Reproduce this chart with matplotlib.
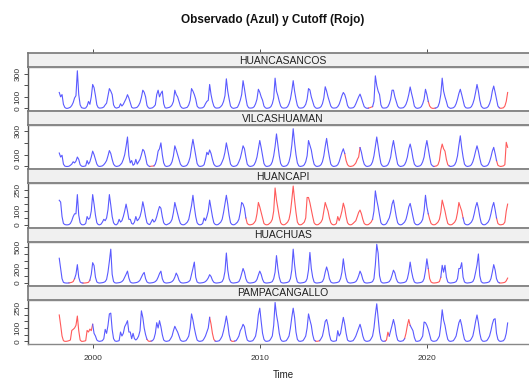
import numpy as np
import matplotlib.pyplot as plt

# --- Datos (precipitacion mensual, ene-1998 a nov-2024) ---

estaciones = ['HUANCASANCOS', 'VILCASHUAMAN', 'HUANCAPI', 'HUACHUAS', 'PAMPACANGALLO']
anio_inicio = 1998

huancasancos = [
    138, 100, 120, 35, 8, 0, 0, 4, 10, 25, 50, 90,
    110, 327, 120, 30, 6, 2, 0, 3, 20, 60, 35, 100,
    208, 180, 110, 30, 6, 2, 3, 5, 12, 30, 45, 110,
    172, 150, 120, 30, 8, 2, 5, 10, 40, 20, 35, 60,
    85, 119, 90, 50, 10, 2, 3, 5, 10, 25, 50, 95,
    158, 140, 100, 25, 5, 0, 2, 5, 15, 30, 120, 158,
    100, 130, 150, 40, 5, 2, 5, 8, 15, 30, 60, 158,
    120, 100, 60, 20, 5, 0, 2, 5, 10, 30, 70, 172,
    150, 120, 80, 20, 5, 2, 3, 5, 15, 40, 60, 70,
    208, 120, 60, 20, 5, 2, 3, 5, 15, 30, 60, 110,
    257, 150, 80, 20, 5, 0, 2, 5, 10, 35, 70, 120,
    241, 170, 90, 25, 5, 2, 3, 5, 15, 40, 80, 166,
    140, 100, 70, 20, 5, 0, 2, 5, 15, 40, 90, 263,
    150, 110, 60, 20, 5, 2, 3, 5, 15, 40, 80, 150,
    241, 150, 80, 25, 5, 2, 3, 5, 15, 35, 80, 172,
    160, 100, 60, 20, 5, 0, 2, 5, 15, 40, 90, 188,
    150, 100, 60, 20, 5, 2, 3, 5, 15, 35, 70, 110,
    138, 120, 80, 25, 5, 2, 3, 5, 15, 40, 70, 100,
    124, 90, 50, 15, 5, 0, 2, 5, 10, 15, 60, 283,
    200, 150, 120, 30, 5, 2, 3, 5, 15, 40, 80, 158,
    158, 100, 60, 20, 5, 2, 3, 5, 15, 35, 70, 120,
    186, 130, 80, 20, 5, 0, 2, 5, 15, 40, 80, 166,
    120, 60, 20, 5, 0, 0, 2, 5, 15, 50, 120, 263,
    150, 100, 60, 15, 5, 0, 2, 5, 15, 40, 80, 130,
    166, 120, 70, 20, 5, 2, 3, 5, 15, 40, 80, 140,
    208, 150, 70, 20, 5, 0, 2, 5, 15, 40, 80, 150,
    194, 140, 80, 20, 5, 0, 2, 5, 20, 60, 138,
]

vilcashuaman = [
    114, 80, 95, 20, 3, 0, 0, 2, 10, 20, 40, 30,
    45, 80, 60, 15, 3, 0, 2, 5, 50, 20, 40, 80,
    130, 100, 60, 20, 3, 0, 2, 5, 15, 30, 50, 90,
    135, 110, 60, 20, 5, 0, 2, 5, 15, 30, 60, 100,
    170, 250, 90, 30, 50, 10, 20, 60, 20, 40, 60, 100,
    145, 130, 80, 20, 5, 0, 2, 3, 5, 20, 60, 130,
    150, 200, 100, 30, 5, 0, 2, 5, 15, 40, 90, 175,
    140, 100, 60, 20, 5, 0, 2, 5, 15, 40, 80, 160,
    230, 160, 90, 25, 5, 0, 2, 5, 15, 60, 120, 100,
    140, 110, 60, 20, 5, 0, 2, 5, 15, 40, 70, 120,
    200, 140, 80, 20, 5, 0, 2, 5, 15, 40, 70, 120,
    175, 150, 80, 20, 5, 0, 2, 5, 15, 40, 80, 150,
    220, 160, 90, 25, 5, 0, 2, 5, 15, 40, 90, 170,
    276, 180, 90, 25, 5, 0, 2, 5, 15, 40, 90, 180,
    320, 200, 100, 30, 5, 0, 2, 5, 15, 40, 90, 220,
    180, 140, 70, 20, 5, 0, 2, 5, 15, 40, 90, 170,
    238, 150, 80, 20, 5, 0, 2, 5, 15, 40, 80, 120,
    150, 110, 50, 15, 3, 0, 2, 5, 15, 30, 60, 80,
    160, 120, 60, 20, 5, 0, 2, 5, 15, 40, 90, 170,
    250, 170, 90, 25, 5, 0, 2, 5, 15, 40, 80, 160,
    220, 150, 80, 20, 5, 0, 2, 5, 15, 40, 80, 150,
    190, 140, 70, 20, 5, 0, 2, 5, 15, 40, 80, 160,
    220, 150, 80, 20, 5, 0, 2, 5, 15, 50, 140, 190,
    150, 130, 60, 15, 5, 0, 2, 5, 15, 40, 90, 180,
    260, 160, 80, 20, 5, 0, 2, 5, 15, 40, 80, 130,
    175, 130, 70, 20, 5, 0, 2, 5, 15, 40, 80, 130,
    162, 110, 50, 10, 3, 0, 2, 5, 15, 205, 162,
]

huancapi = [
    178, 165, 60, 10, 2, 0, 0, 2, 10, 30, 60, 80,
    80, 219, 70, 15, 2, 0, 2, 10, 60, 40, 50, 100,
    219, 150, 70, 15, 2, 0, 5, 20, 40, 30, 50, 110,
    219, 143, 60, 15, 2, 0, 10, 40, 20, 30, 60, 100,
    150, 100, 40, 40, 10, 5, 20, 60, 30, 40, 60, 100,
    167, 120, 60, 15, 5, 2, 20, 40, 20, 30, 60, 100,
    133, 120, 60, 15, 3, 0, 5, 10, 20, 40, 90, 162,
    120, 80, 40, 10, 2, 0, 2, 10, 20, 40, 90, 140,
    214, 130, 60, 15, 3, 0, 2, 10, 50, 30, 60, 100,
    179, 120, 60, 15, 3, 0, 2, 10, 20, 40, 90, 150,
    214, 150, 70, 15, 3, 0, 2, 10, 20, 40, 90, 162,
    150, 120, 50, 10, 2, 0, 2, 5, 15, 30, 80, 162,
    130, 90, 50, 10, 2, 0, 2, 10, 20, 40, 100, 267,
    180, 120, 60, 15, 3, 0, 2, 10, 20, 40, 90, 180,
    281, 180, 90, 20, 3, 0, 2, 10, 20, 50, 198, 198,
    160, 110, 60, 15, 3, 0, 2, 10, 20, 40, 100, 162,
    130, 100, 50, 15, 3, 0, 2, 10, 60, 30, 60, 100,
    157, 120, 60, 15, 3, 0, 2, 10, 20, 30, 60, 90,
    107, 80, 40, 10, 2, 0, 2, 10, 20, 40, 100, 246,
    180, 130, 70, 15, 3, 0, 2, 10, 30, 50, 90, 150,
    179, 120, 60, 15, 3, 0, 2, 10, 20, 40, 80, 130,
    155, 110, 60, 15, 3, 0, 2, 10, 20, 40, 100, 214,
    130, 80, 40, 10, 2, 0, 2, 10, 20, 40, 90, 179,
    140, 100, 50, 10, 2, 0, 2, 10, 20, 40, 90, 162,
    130, 100, 50, 10, 2, 0, 2, 10, 20, 40, 80, 130,
    162, 120, 60, 15, 3, 0, 2, 10, 20, 40, 80, 130,
    162, 110, 50, 10, 2, 0, 2, 5, 20, 100, 150,
]

huachuas = [
    341, 200, 60, 10, 2, 0, 0, 2, 5, 10, 20, 60,
    120, 253, 80, 15, 3, 0, 0, 2, 5, 10, 40, 120,
    280, 240, 80, 15, 3, 0, 2, 5, 10, 20, 50, 150,
    300, 466, 120, 20, 3, 0, 2, 5, 10, 20, 40, 80,
    120, 164, 70, 15, 3, 0, 2, 5, 10, 20, 40, 80,
    120, 146, 60, 15, 3, 0, 2, 5, 10, 20, 40, 80,
    130, 164, 60, 15, 3, 0, 2, 5, 10, 20, 40, 80,
    137, 100, 40, 10, 2, 0, 2, 5, 10, 20, 40, 120,
    200, 288, 80, 15, 3, 0, 2, 5, 10, 20, 40, 70,
    115, 90, 40, 10, 2, 0, 2, 5, 10, 20, 60, 160,
    413, 180, 60, 15, 3, 0, 2, 5, 10, 20, 60, 130,
    200, 150, 60, 15, 3, 0, 2, 5, 10, 20, 50, 110,
    164, 120, 50, 10, 2, 0, 2, 5, 10, 20, 60, 150,
    377, 200, 80, 15, 3, 0, 2, 5, 10, 20, 60, 180,
    466, 250, 90, 15, 3, 0, 2, 5, 10, 20, 60, 180,
    421, 200, 80, 15, 3, 0, 2, 5, 10, 20, 60, 150,
    221, 155, 60, 15, 3, 0, 2, 5, 10, 20, 60, 150,
    333, 180, 70, 15, 3, 0, 2, 5, 10, 20, 50, 100,
    164, 120, 50, 10, 2, 0, 2, 5, 10, 20, 60, 250,
    533, 410, 100, 20, 3, 0, 2, 5, 10, 20, 50, 110,
    177, 140, 60, 15, 3, 0, 2, 5, 10, 20, 60, 150,
    288, 160, 70, 15, 3, 0, 2, 5, 10, 20, 60, 170,
    333, 200, 60, 15, 3, 0, 2, 5, 10, 20, 80, 244,
    150, 244, 80, 15, 3, 0, 2, 5, 10, 20, 60, 200,
    200, 280, 80, 15, 3, 0, 2, 5, 10, 20, 60, 150,
    250, 400, 100, 20, 3, 0, 2, 5, 10, 20, 60, 150,
    253, 180, 60, 15, 3, 0, 2, 5, 10, 30, 68,
]

pampacangallo = [
    198, 122, 40, 5, 0, 0, 2, 5, 10, 82, 90, 100,
    120, 190, 80, 10, 0, 0, 2, 5, 82, 70, 92, 80,
    128, 60, 40, 10, 2, 0, 2, 5, 20, 90, 60, 120,
    206, 212, 90, 20, 3, 0, 2, 5, 70, 40, 60, 110,
    130, 155, 70, 70, 20, 60, 20, 10, 20, 40, 80, 229,
    180, 100, 50, 15, 2, 0, 2, 5, 20, 60, 140, 100,
    155, 110, 50, 10, 2, 0, 2, 5, 20, 40, 80, 113,
    90, 70, 40, 10, 2, 0, 2, 5, 20, 40, 100, 206,
    160, 100, 50, 10, 2, 0, 2, 5, 20, 40, 70, 100,
    180, 130, 60, 15, 2, 0, 2, 5, 20, 40, 80, 130,
    190, 130, 50, 10, 0, 0, 2, 5, 20, 40, 80, 100,
    128, 110, 50, 10, 2, 0, 2, 5, 20, 40, 100, 200,
    249, 150, 60, 15, 2, 0, 2, 5, 20, 40, 120, 292,
    200, 140, 60, 15, 2, 0, 2, 5, 20, 40, 100, 180,
    249, 180, 70, 15, 2, 0, 2, 5, 20, 40, 100, 206,
    160, 120, 50, 10, 2, 0, 2, 5, 20, 40, 90, 150,
    164, 120, 50, 10, 2, 0, 2, 5, 80, 40, 60, 120,
    180, 130, 60, 10, 2, 0, 2, 5, 20, 40, 70, 100,
    128, 90, 40, 10, 2, 0, 2, 5, 20, 40, 100, 200,
    282, 180, 70, 15, 2, 0, 2, 10, 69, 40, 80, 120,
    164, 120, 50, 10, 2, 0, 2, 5, 20, 60, 120, 164,
    120, 100, 80, 30, 2, 0, 2, 5, 20, 40, 145, 140,
    120, 90, 50, 10, 2, 0, 2, 5, 20, 40, 120, 237,
    160, 120, 60, 15, 2, 0, 2, 5, 20, 40, 90, 140,
    164, 120, 60, 15, 2, 0, 2, 5, 20, 40, 90, 150,
    198, 140, 60, 15, 2, 0, 2, 5, 20, 40, 80, 130,
    164, 170, 60, 15, 2, 0, 2, 5, 20, 60, 138,
]

# periodos rellenados (cutoff) en rojo: (inicio, fin) inclusive
cutoff_huancasancos = [('2016-08', '2016-09'), ('2020-03', '2020-06'), ('2024-06', '2024-11')]
cutoff_vilcashuaman = [('2003-07', '2003-08'), ('2015-03', '2015-12'), ('2020-07', '2021-04'),
                       ('2024-04', '2024-11')]
cutoff_huancapi = [('2009-04', '2016-09'), ('2020-03', '2022-02'), ('2024-04', '2024-11')]
cutoff_huachuas = [('1998-09', '1998-11'), ('1999-07', '1999-10'), ('2020-03', '2020-10'),
                   ('2024-06', '2024-11')]
cutoff_pampacangallo = [('1998-01', '1999-12'), ('2003-05', '2003-06'), ('2007-02', '2007-04'),
                        ('2008-05', '2008-06'), ('2013-06', '2013-07'), ('2017-08', '2017-09'),
                        ('2018-10', '2018-12')]

series = [huancasancos, vilcashuaman, huancapi, huachuas, pampacangallo]
cortes = [cutoff_huancasancos, cutoff_vilcashuaman, cutoff_huancapi, cutoff_huachuas,
          cutoff_pampacangallo]

# ejes y: limites, ticks y etiquetas
y_lims = [(-25, 360), (-25, 350), (-20, 300), (-38, 570), (-20, 312)]
y_ticks = [[0, 100, 200, 300], [0, 100, 200, 300], [0, 50, 100, 150, 200, 250],
           [0, 100, 200, 300, 400, 500], [0, 50, 100, 150, 200, 250]]
y_labels = [['0', '100', '', '300'], ['0', '100', '', '300'], ['0', '', '100', '', '', '250'],
            ['0', '', '200', '', '', '500'], ['0', '', '100', '', '', '250']]
x_ticks = [2000, 2010, 2020]


def mes_idx(s):
    a, m = s.split('-')
    return (int(a) - anio_inicio) * 12 + int(m) - 1


# --- Figura ---
plt.rcParams['font.family'] = ['Liberation Sans Narrow', 'Liberation Sans', 'DejaVu Sans']
W, H = 529, 381
fig = plt.figure(figsize=(W / 100, H / 100), dpi=100)

AZUL = '#5a5aff'
ROJO = '#ff5a5a'
BORDE = '#888888'

x_left, x_right = 28, 538
top, bottom = 53, 344
alto = (bottom - top) / 5
alto_strip = 14
xlim = (1996.13, 2026.65)

for k, nombre in enumerate(estaciones):
    y0 = top + k * alto
    # strip
    sax = fig.add_axes([x_left / W, 1 - (y0 + alto_strip) / H, (x_right - x_left) / W, alto_strip / H])
    sax.set_facecolor('#f0f0f0')
    sax.set_xlim(xlim)
    sax.set_yticks([])
    for sp in sax.spines.values():
        sp.set_color('#777777')
        sp.set_linewidth(1.2)
    sax.text(0.5, 0.45, nombre, transform=sax.transAxes, ha='center', va='center',
             fontsize=7.5, color='#222222')
    if k == 0:
        sax.set_xticks(x_ticks)
        sax.tick_params(axis='x', top=True, bottom=False, labeltop=False, labelbottom=False,
                        length=3, width=0.6, color='#333333')
    else:
        sax.set_xticks([])

    # panel
    ax = fig.add_axes([x_left / W, 1 - (y0 + alto) / H, (x_right - x_left) / W, (alto - alto_strip) / H])
    valores = np.array(series[k], dtype=float)
    t = anio_inicio + np.arange(len(valores)) / 12.0
    observado = valores.copy()
    for ini, fin in cortes[k]:
        i0, i1 = mes_idx(ini), mes_idx(fin)
        observado[i0:i1 + 1] = np.nan
        a, b = max(i0 - 1, 0), min(i1 + 2, len(valores))
        ax.plot(t[a:b], valores[a:b], color=ROJO, lw=0.8)
    ax.plot(t, observado, color=AZUL, lw=0.8)

    ax.set_xlim(xlim)
    ax.set_ylim(y_lims[k])
    ax.set_yticks(y_ticks[k])
    ax.set_yticklabels(y_labels[k], rotation=90, va='center', fontsize=6, color='#333333')
    ax.tick_params(axis='y', length=3, width=0.6, pad=1.5, color='#333333')
    for sp in ax.spines.values():
        sp.set_color(BORDE)
        sp.set_linewidth(1.0)
    ax.spines['left'].set_color('#555555')
    if k == 4:
        ax.set_xticks(x_ticks)
        ax.set_xticklabels([str(v) for v in x_ticks], fontsize=6, color='#333333')
        ax.tick_params(axis='x', length=3, width=0.6, pad=5, color='#333333')
        ax.set_xlabel('Time', fontsize=7, color='#222222', labelpad=6)
    else:
        ax.set_xticks([])

fig.text(273 / W, 1 - 20 / H, 'Observado (Azul) y Cutoff (Rojo)', ha='center', va='center',
         fontsize=8.5, fontweight='bold', color='#111111')

fig.savefig('out.png', dpi=100)
